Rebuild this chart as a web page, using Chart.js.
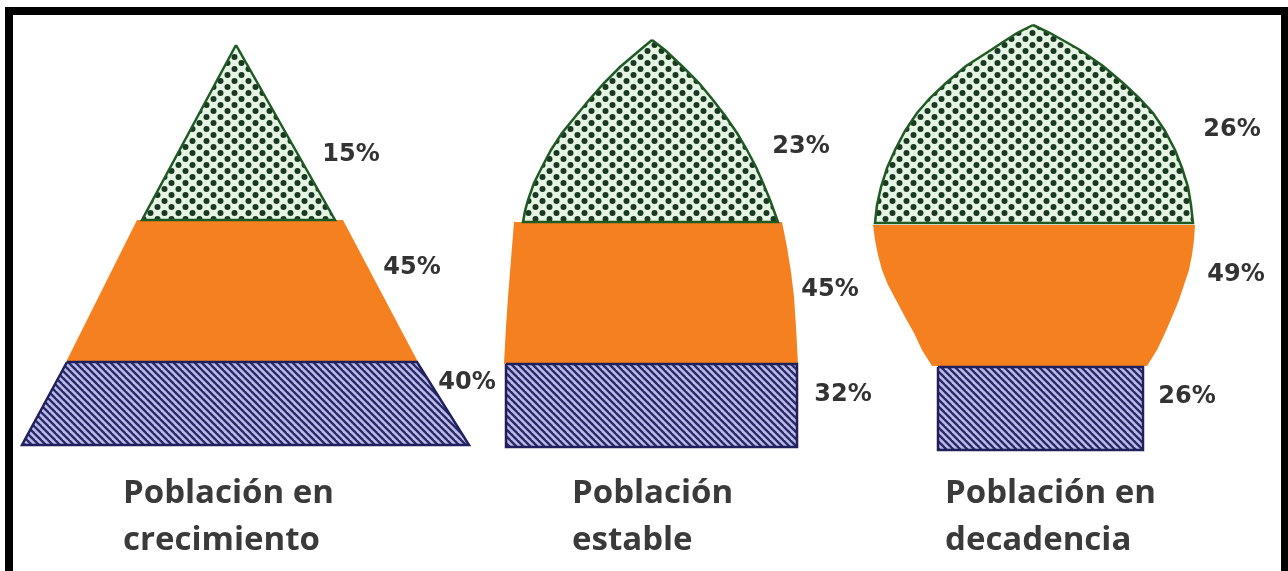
<!DOCTYPE html>
<html lang="es">
<head>
<meta charset="utf-8">
<title>Pirámides de población</title>
<script src="https://cdn.jsdelivr.net/npm/chart.js@4.4.1/dist/chart.umd.min.js"></script>
<style>
  html, body { margin: 0; padding: 0; background: #fff; overflow: hidden; }
  #frame {
    position: absolute; left: 5px; top: 7px; width: 1283px; height: 620px;
    box-sizing: border-box;
    border-left: 8px solid #000; border-top: 8px solid #000; border-right: 7px solid #000;
  }
  #chart { position: absolute; left: 0; top: 0; }
</style>
</head>
<body>
<div id="frame"></div>
<canvas id="chart" width="1288" height="571"></canvas>
<script>
// Tres tipos de pirámide: joven (abajo), adulta (centro), anciana (arriba)

const captions = [["Población en", "crecimiento"], ["Población", "estable"], ["Población en", "decadencia"]];

const oldPct = [15, 23, 26];
const adultPct = [45, 45, 49];
const youngPct = [40, 32, 26];

// contornos: altura sobre la base, borde izquierdo, borde derecho
const oldH = [
    [402, 227],
    [407, 397, 380, 364, 347, 330, 314, 297, 280, 264, 247, 236, 225],
    [422, 414, 405, 397, 381, 364, 349, 334, 316, 297, 279, 260, 242, 224]
];
const oldL = [
    [236, 142],
    [652, 640, 620, 604, 589, 575, 562, 551, 542, 534, 528, 525, 523],
    [1033, 1017, 1003, 991, 966, 946, 930, 917, 905, 895, 887, 881, 877, 875]
];
const oldR = [
    [236, 335],
    [652, 665, 683, 699, 713, 726, 737, 747, 756, 763, 770, 774, 778],
    [1033, 1050, 1066, 1080, 1103, 1123, 1139, 1153, 1165, 1175, 1182, 1188, 1191, 1193]
];

const adultH = [
    [227, 85],
    [225, 200, 175, 150, 120, 83],
    [222, 207, 192, 177, 162, 147, 130, 114, 97, 81]
];
const adultL = [
    [137, 66],
    [514, 512, 510, 508, 506, 504],
    [873, 875, 878, 882, 888, 896, 905, 914, 922, 932]
];
const adultR = [
    [343, 418],
    [782, 787, 791, 794, 796, 798],
    [1195, 1194, 1192, 1189, 1184, 1179, 1172, 1165, 1157, 1147]
];

const youngH = [
    [85, 2],
    [83, 0],
    [80, -3]
];
const youngL = [
    [67, 22],
    [506, 506],
    [938, 938]
];
const youngR = [
    [417, 469],
    [797, 797],
    [1143, 1143]
];

// dónde va cada porcentaje (x, altura)
const oldLabelAt = [[351, 292], [801, 300], [1232, 317]];
const adultLabelAt = [[412, 179], [830, 157], [1236, 172]];
const youngLabelAt = [[467, 64], [843, 52], [1187, 50]];
const captionX = [123, 572, 945];
const captionBase = [-56, -103];

function outline(h, l, r) {
    const pts = h.map((y, i) => ({ x: l[i], y: y }));
    for (let i = h.length - 1; i >= 0; i--) {
        pts.push({ x: r[i], y: h[i] });
    }
    pts.push(pts[0]);
    return pts;
}

function dotPattern() {
    const c = document.createElement("canvas");
    c.width = 14;
    c.height = 12;
    const g = c.getContext("2d");
    g.fillStyle = "#e6f4e4";
    g.fillRect(0, 0, 14, 12);
    g.fillStyle = "#1b3823";
    [[3.5, 3], [10.5, 9]].forEach(([x, y]) => {
        g.beginPath();
        g.arc(x, y, 3, 0, Math.PI * 2);
        g.fill();
    });
    return g.createPattern(c, "repeat");
}

function hatchPattern() {
    const s = 7;
    const c = document.createElement("canvas");
    c.width = s;
    c.height = s;
    const g = c.getContext("2d");
    g.fillStyle = "#bcbce8";
    g.fillRect(0, 0, s, s);
    g.strokeStyle = "#2a2a6a";
    g.lineWidth = 2.4;
    for (let k = -s; k <= s; k += s) {
        g.beginPath();
        g.moveTo(k - 1, -1);
        g.lineTo(k + s + 1, s + 1);
        g.stroke();
    }
    return g.createPattern(c, "repeat");
}

const dots = dotPattern();
const hatch = hatchPattern();

function band(pts, fill, border, width) {
    return {
        data: pts,
        showLine: true,
        fill: "shape",
        backgroundColor: fill,
        borderColor: border,
        borderWidth: width,
        pointRadius: 0,
        tension: 0
    };
}

const datasets = [];
oldH.forEach((h, i) => datasets.push(band(outline(h, oldL[i], oldR[i]), dots, "#1f5a23", 2.5)));
youngH.forEach((h, i) => datasets.push(band(outline(h, youngL[i], youngR[i]), hatch, "#20205e", 2.5)));
adultH.forEach((h, i) => datasets.push(band(outline(h, adultL[i], adultR[i]), "#f5801f", "#f5801f", 0)));

const labelsPlugin = {
    id: "rotulos",
    afterDatasetsDraw(chart) {
        const { ctx, scales: { x, y } } = chart;
        ctx.save();
        ctx.fillStyle = "#333";
        ctx.textAlign = "center";
        ctx.textBaseline = "middle";
        ctx.font = "bold 24px 'DejaVu Sans'";
        [[oldPct, oldLabelAt], [adultPct, adultLabelAt], [youngPct, youngLabelAt]].forEach(([vals, at]) => {
            vals.forEach((v, i) => {
                ctx.fillText(v + "%", x.getPixelForValue(at[i][0]), y.getPixelForValue(at[i][1]));
            });
        });
        ctx.textAlign = "left";
        ctx.textBaseline = "alphabetic";
        ctx.fillStyle = "#3a3a3a";
        ctx.font = "bold 33px 'Open Sans'";
        captions.forEach((lines, i) => {
            lines.forEach((t, j) => {
                ctx.fillText(t, x.getPixelForValue(captionX[i]), y.getPixelForValue(captionBase[j]));
            });
        });
        ctx.restore();
    }
};

new Chart(document.getElementById("chart"), {
    type: "scatter",
    data: { datasets: datasets },
    options: {
        responsive: false,
        animation: false,
        devicePixelRatio: 1,
        layout: { padding: 0 },
        plugins: {
            legend: { display: false },
            tooltip: { enabled: false }
        },
        scales: {
            x: { type: "linear", display: false, min: 0, max: 1288 },
            y: { type: "linear", display: false, min: -124, max: 447 }
        }
    },
    plugins: [labelsPlugin]
});
</script>
</body>
</html>
